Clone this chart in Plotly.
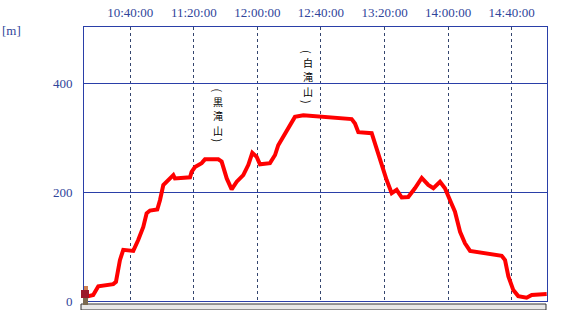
import plotly.graph_objects as go

DAY = "2023-05-01 "

# elevation profile (time, metres)
times = ["10:12:36","10:16:42","10:19:54","10:29:18","10:31:00","10:31:48","10:33:30","10:35:36",
         "10:41:54","10:45:00","10:48:12","10:50:18","10:52:24","10:57:00","10:58:42","11:00:48",
         "11:04:30","11:07:06","11:08:06","11:17:36","11:18:36","11:20:42","11:24:54","11:27:00",
         "11:35:24","11:37:30","11:40:42","11:43:48","11:47:00","11:51:06","11:54:18","11:56:48",
         "11:59:30","12:01:36","12:07:54","12:11:06","12:13:06","12:17:18","12:20:30","12:23:36",
         "12:28:54","12:39:24","12:48:48","12:59:18","13:01:24","13:03:30","13:11:54","13:14:00",
         "13:17:06","13:19:12","13:21:18","13:24:30","13:27:36","13:30:48","13:34:54","13:39:06",
         "13:43:24","13:47:30","13:50:42","13:54:54","13:58:00","14:01:12","14:04:18","14:07:30",
         "14:10:36","14:13:48","14:24:18","14:33:42","14:35:48","14:37:54","14:41:00","14:44:06",
         "14:49:24","14:52:36","15:02:00"]
elev = [8, 11, 27, 31, 35, 51, 75, 94,
        92, 112, 136, 161, 166, 168, 185, 213,
        225, 231, 225, 227, 237, 246, 253, 260,
        260, 256, 225, 205, 219, 231, 250, 272,
        265, 251, 253, 268, 286, 308, 323, 338,
        341, 339, 337, 334, 326, 310, 308, 289,
        259, 237, 222, 198, 204, 190, 191, 207,
        226, 213, 207, 219, 207, 185, 164, 127,
        106, 92, 87, 83, 75, 45, 20, 9,
        6, 11, 13]

tick_times = ["10:40:00","11:20:00","12:00:00","12:40:00","13:20:00","14:00:00","14:40:00"]
y_ticks = [0, 200, 400]
x_range = ["10:10:54", "15:02:12"]
y_range = [0, 503]

# peak labels: name, time, label centre elevation
peak_names = ["黒滝山", "白滝山"]
peak_times = ["11:35:24", "12:31:36"]
peak_label_elev = [340, 412]

BLUE = "#2a3fa8"
TXT = "#30449a"
PLOT_H = 274  # plot area height in px
M_PER_PX = (y_range[1] - y_range[0]) / PLOT_H
PITCH = 14.5  # px between vertical glyphs

fig = go.Figure()
fig.add_trace(go.Scatter(
    x=[DAY + t for t in times], y=elev, mode="lines",
    line=dict(color="#ff0000", width=4), hoverinfo="skip", showlegend=False))

annotations = []
for name, t, yc in zip(peak_names, peak_times, peak_label_elev):
    n = len(name)
    for i, ch in enumerate(name):
        off = ((n - 1) / 2 - i) * PITCH * M_PER_PX
        annotations.append(dict(x=DAY + t, y=yc + off, xref="x", yref="y", text=ch,
                                showarrow=False, borderpad=0,
                                font=dict(family="Noto Sans CJK JP", size=10, color="#000000"),
                                xanchor="center", yanchor="middle"))
    edge = ((n - 1) / 2 * PITCH + 10.5) * M_PER_PX
    annotations.append(dict(x=DAY + t, y=yc + edge, xref="x", yref="y", text="(",
                            textangle=90, showarrow=False, borderpad=0,
                            font=dict(family="Noto Sans CJK JP", size=11, color="#000000"),
                            xanchor="center", yanchor="middle"))
    annotations.append(dict(x=DAY + t, y=yc - edge, xref="x", yref="y", text=")",
                            textangle=90, showarrow=False, borderpad=0,
                            font=dict(family="Noto Sans CJK JP", size=11, color="#000000"),
                            xanchor="center", yanchor="middle"))
annotations.append(dict(x=-84/463, y=(301-31)/274, xref="paper", yref="paper", text="[m]",
                        showarrow=False, xanchor="left", yanchor="middle",
                        font=dict(family="Liberation Serif", size=13, color=TXT)))

def px(x):
    return (x - 84) / 463

def py(y):
    return (301 - y) / 274

shapes = [
    dict(type="rect", xref="paper", yref="paper", x0=px(81), x1=px(546),
         y0=py(310), y1=py(304), fillcolor="#e8e8e8", line=dict(color="#333333", width=1), layer="above"),
    # small hiker icon at start
    dict(type="rect", xref="paper", yref="paper", x0=px(83), x1=px(88), y0=py(305), y1=py(297),
         fillcolor="#7a6a50", line=dict(width=0), layer="above"),
    dict(type="rect", xref="paper", yref="paper", x0=px(81), x1=px(89), y0=py(298), y1=py(290),
         fillcolor="#9a1a2a", line=dict(width=0), layer="above"),
    dict(type="rect", xref="paper", yref="paper", x0=px(84), x1=px(88), y0=py(290), y1=py(286),
         fillcolor="#d08050", line=dict(width=0), layer="above"),
]

fig.update_layout(
    width=567, height=310, margin=dict(l=84, r=20, t=27, b=9),
    paper_bgcolor="white", plot_bgcolor="white",
    annotations=annotations, shapes=shapes,
    xaxis=dict(type="date", side="top", range=[DAY + x_range[0], DAY + x_range[1]],
               tickvals=[DAY + t for t in tick_times], ticktext=tick_times,
               tickfont=dict(family="Liberation Serif", size=13, color=TXT),
               showgrid=True, gridcolor="#34456e", griddash="dot", gridwidth=1,
               showline=True, mirror=True, linecolor=BLUE, linewidth=1,
               ticks="", ticklabelstandoff=4, zeroline=False, automargin=False),
    yaxis=dict(range=y_range, tickvals=y_ticks, ticktext=[str(v) for v in y_ticks],
               tickfont=dict(family="Liberation Serif", size=13, color=TXT),
               showgrid=True, gridcolor=BLUE, gridwidth=1,
               showline=True, mirror=True, linecolor=BLUE, linewidth=1,
               ticks="", ticklabelstandoff=8, zeroline=False, automargin=False),
)

fig.write_html("out.html")
